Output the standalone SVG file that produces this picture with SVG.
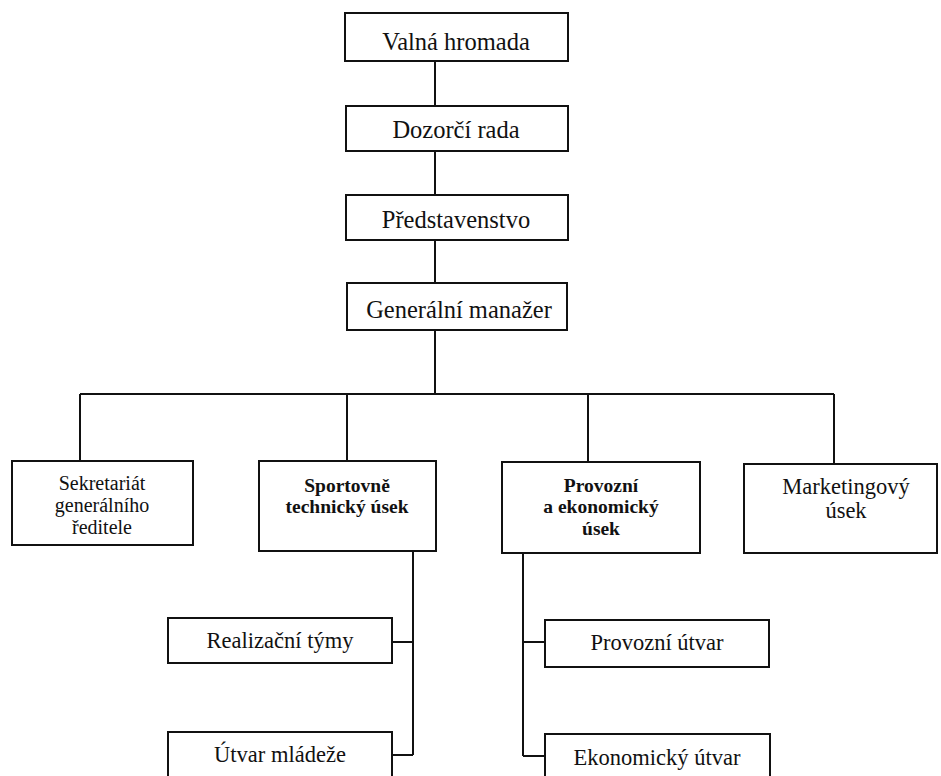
<svg xmlns="http://www.w3.org/2000/svg" width="941" height="776" viewBox="0 0 941 776">
<style>
.box{fill:#fff;stroke:#111;stroke-width:2}
.ln{fill:none;stroke:#111;stroke-width:2}
text{font-family:"Liberation Serif","Times New Roman",serif;fill:#111;text-anchor:middle}
.t1{font-size:24.5px}
.t2{font-size:20px}
.t2b{font-size:19.5px;font-weight:bold}
.t3{font-size:22.5px}
</style>
<rect width="941" height="776" fill="#fff"/>
<g id="connectors">
<path class="ln" d="M435 61V106M435 151V195M435 240V283M435 330V394"/>
<path class="ln" d="M80 394H834M80 394V461M347 394V461M588 394V462M834 394V464"/>
<path class="ln" d="M413 551V755M392 642H413M392 755H413"/>
<path class="ln" d="M523 553V756M523 642H545M523 756H545"/>
</g>
<g id="valna"><rect class="box" x="345" y="13" width="223" height="48"/><text class="t1" x="456" y="50">Valná hromada</text></g>
<g id="dozorci"><rect class="box" x="346" y="106" width="222" height="45"/><text class="t1" x="456" y="138">Dozorčí rada</text></g>
<g id="predstavenstvo"><rect class="box" x="346" y="195" width="222" height="45"/><text class="t1" x="456" y="228">Představenstvo</text></g>
<g id="manazer"><rect class="box" x="347" y="283" width="220" height="47"/><text class="t1" x="459" y="318">Generální manažer</text></g>
<g id="sekretariat"><rect class="box" x="12" y="461" width="181" height="84"/><text class="t2" x="102" y="490">Sekretariát</text><text class="t2" x="102" y="512">generálního</text><text class="t2" x="102" y="534">ředitele</text></g>
<g id="sportovne"><rect class="box" x="259" y="461" width="177" height="90"/><text class="t2b" x="347" y="492">Sportovně</text><text class="t2b" x="347" y="513">technický úsek</text></g>
<g id="provozni-ekonomicky"><rect class="box" x="502" y="462" width="198" height="91"/><text class="t2b" x="601" y="492">Provozní</text><text class="t2b" x="601" y="513">a ekonomický</text><text class="t2b" x="601" y="535">úsek</text></g>
<g id="marketing"><rect class="box" x="744" y="464" width="193" height="89"/><text class="t3" x="846" y="494">Marketingový</text><text class="t3" x="846" y="518">úsek</text></g>
<g id="realizacni"><rect class="box" x="168" y="618" width="224" height="45"/><text class="t3" x="280" y="648">Realizační týmy</text></g>
<g id="mladez"><rect class="box" x="168" y="732" width="224" height="50"/><text class="t3" x="280" y="762">Útvar mládeže</text></g>
<g id="provozni-utvar"><rect class="box" x="545" y="620" width="224" height="47"/><text class="t3" x="657" y="650">Provozní útvar</text></g>
<g id="ekonomicky-utvar"><rect class="box" x="545" y="734" width="225" height="50"/><text class="t3" x="657" y="765">Ekonomický útvar</text></g>
</svg>
